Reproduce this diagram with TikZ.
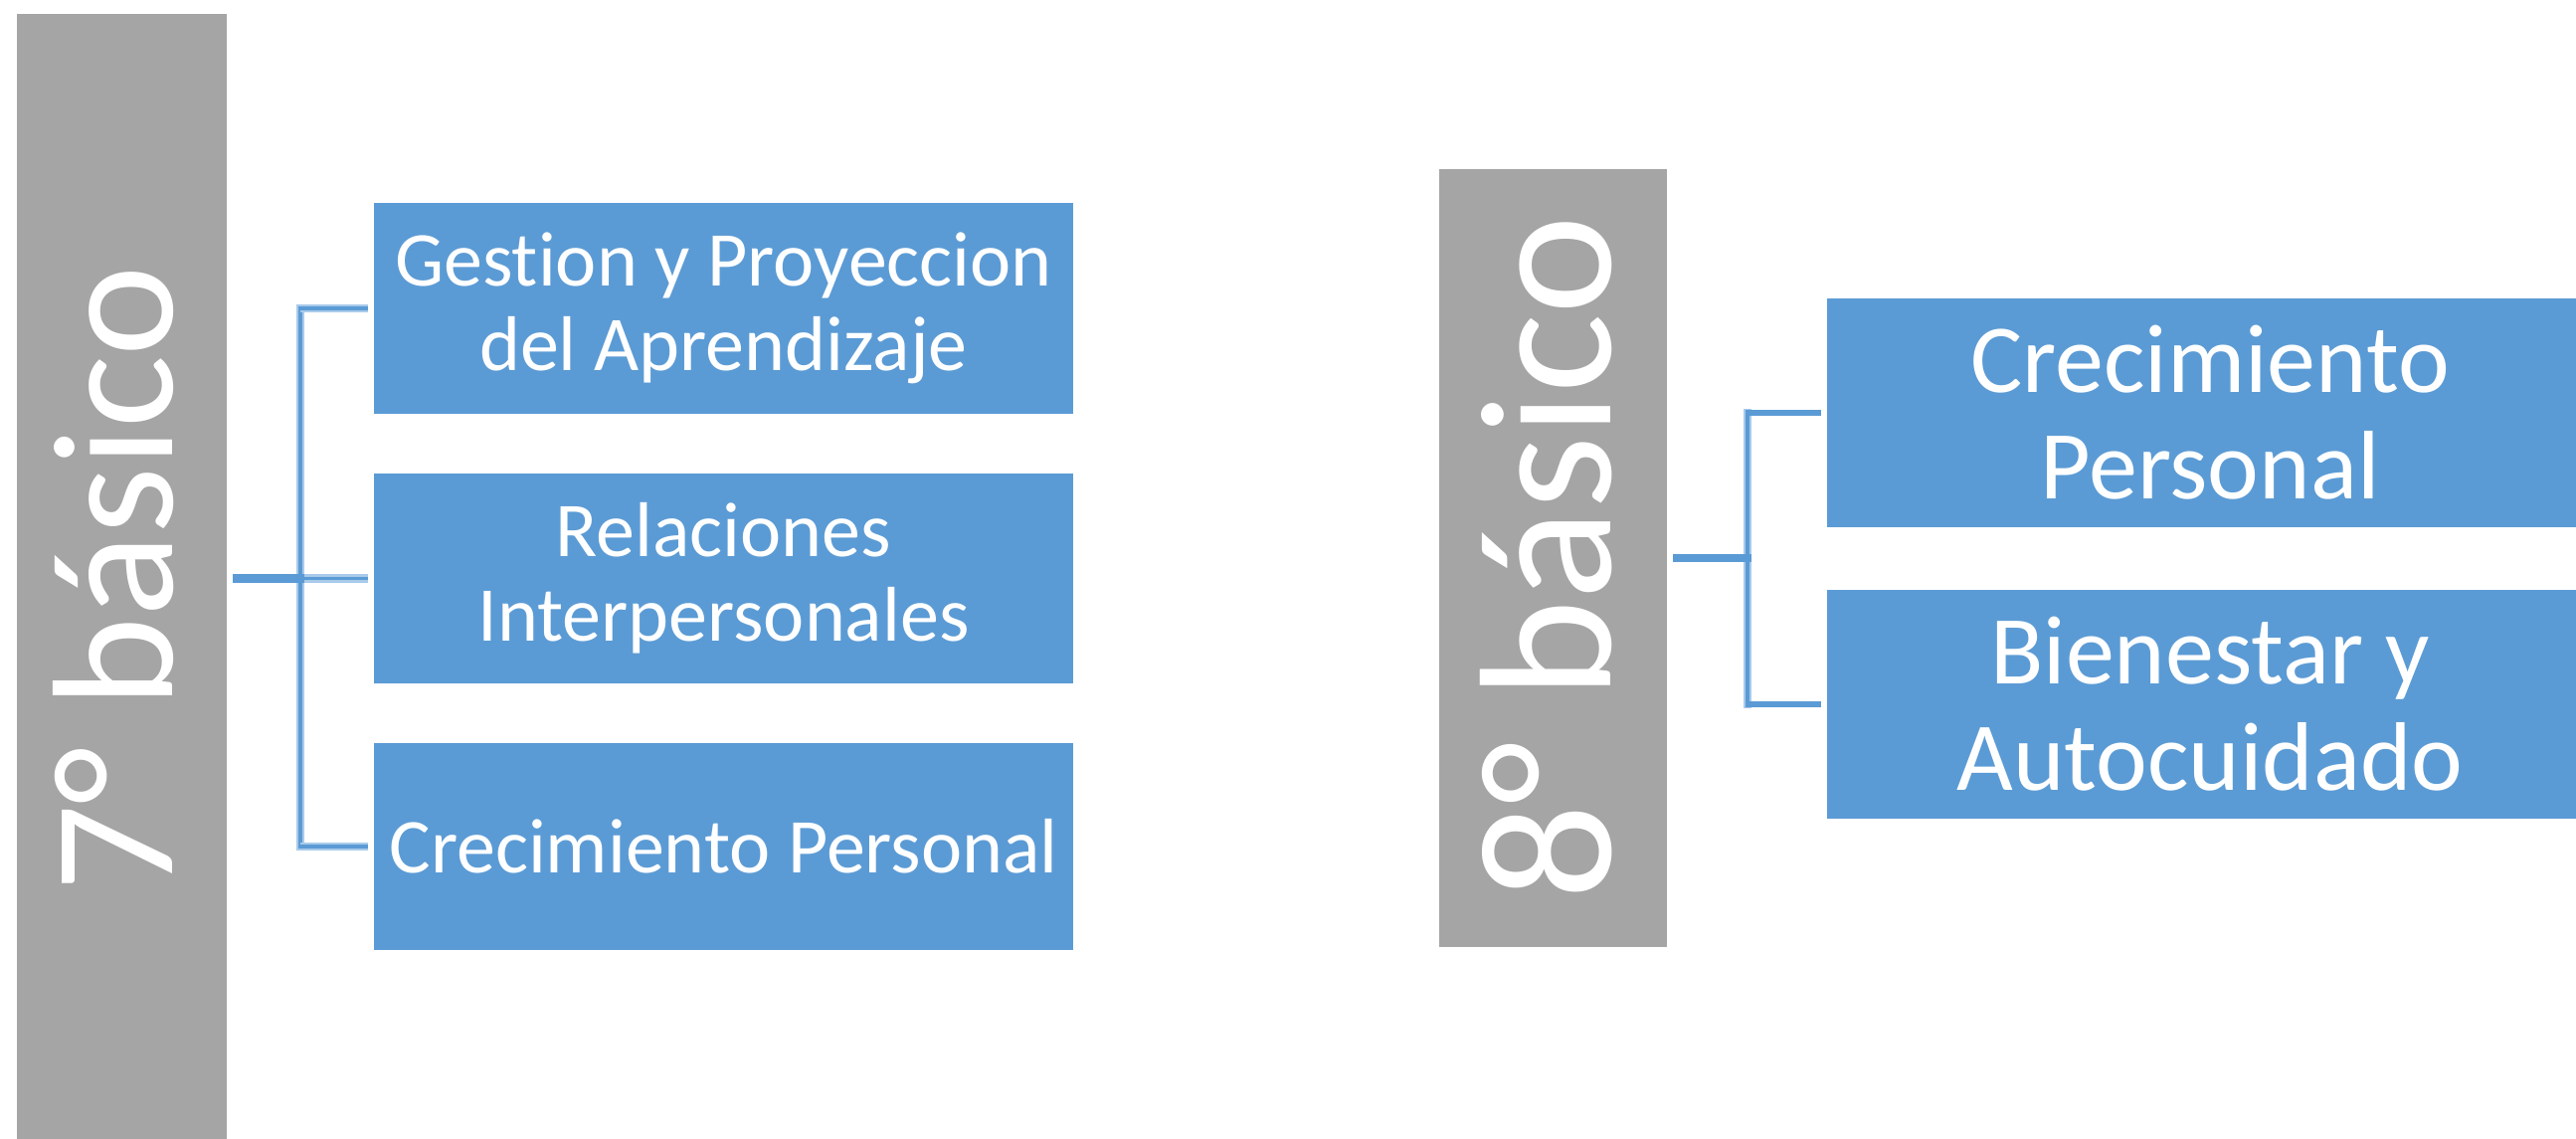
\documentclass[tikz,border=0pt]{standalone}
\usepackage{fontspec}
\setmainfont{Carlito}[Ligatures={NoCommon}]
\definecolor{barGray}{HTML}{A5A5A5}
\definecolor{boxBlue}{HTML}{5B9BD5}
\definecolor{lineLight}{HTML}{A9CAEA}
\begin{document}
\begin{tikzpicture}[x=1pt,y=-1pt,
  bar/.style={fill=barGray,draw=none,inner sep=0pt},
  bartext/.style={text=white,inner sep=0pt,rotate=90,anchor=base},
  topic/.style={fill=boxBlue,draw=none,inner sep=0pt,text=white,align=center},
  trunk/.style={draw=boxBlue,line width=8.5pt},
  conn/.style={draw=lineLight,line width=8.5pt,line cap=rect,
    postaction={draw=boxBlue,line width=3.5pt}}]
\clip (0,0) rectangle (2590,1144);
\fill[white] (0,0) rectangle (2590,1144);
% 7 basico
\node[bar,minimum width=211pt,minimum height=1140pt] (bar7) at (122.5,584) {};
\node[bartext,font=\fontsize{173}{200}\selectfont] (t7) at (173,582) {7° básico};
\node[topic,minimum width=703pt,minimum height=212pt,font=\fontsize{78}{85}\selectfont] (a1) at (727.5,310) {Gestion y Proyeccion\\del Aprendizaje};
\node[topic,minimum width=703pt,minimum height=211pt,font=\fontsize{78}{85}\selectfont] (a2) at (727.5,581.5) {Relaciones\\Interpersonales};
\node[topic,minimum width=703pt,minimum height=208pt,font=\fontsize{78}{85}\selectfont] (a3) at (727.5,851) {Crecimiento Personal};
\coordinate (j7) at (302,581.5);
\draw[conn] (j7 |- a1.west) -- (j7 |- a3.west);
\foreach \n in {a1,a2,a3} \draw[conn,line cap=butt] (j7 |- \n.west) -- ([xshift=-6pt]\n.west);
\draw[trunk] ([xshift=6pt]bar7.east |- j7) -- ([xshift=4pt]j7);
% 8 basico
\node[bar,minimum width=229pt,minimum height=782pt] (bar8) at (1561.5,561) {};
\node[bartext,font=\fontsize{189}{220}\selectfont] (t8) at (1619,561) {8° básico};
\node[topic,minimum width=770pt,minimum height=230pt,font=\fontsize{98}{107}\selectfont] (b1) at (2222,415) {Crecimiento\\Personal};
\node[topic,minimum width=770pt,minimum height=230pt,font=\fontsize{98}{107}\selectfont] (b2) at (2222,708) {Bienestar y\\Autocuidado};
\coordinate (j8) at (1757,561);
\draw[conn] (j8 |- b1.west) -- (j8 |- b2.west);
\foreach \n in {b1,b2} \draw[trunk,line width=6pt] ([xshift=-2pt]j8 |- \n.west) -- ([xshift=-6pt]\n.west);
\draw[trunk] ([xshift=6pt]bar8.east |- j8) -- ([xshift=4pt]j8);
\end{tikzpicture}
\end{document}
